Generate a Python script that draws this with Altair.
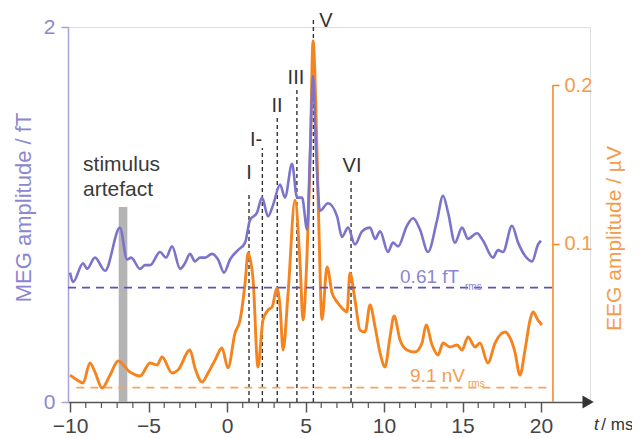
import altair as alt
import pandas as pd

# ---------------- data ----------------
meg_t = [-10.0, -9.81, -9.17, -8.92, -8.41, -7.77, -6.82, -6.37, -6.11, -5.54, -5.22, -4.90,
         -4.27, -3.89, -3.50, -2.99, -2.68, -2.36, -2.04, -1.72, -1.40, -0.96, -0.57, -0.19,
         0.19, 0.70, 1.15, 1.46, 1.91, 2.23, 2.61, 2.93, 3.38, 3.69, 4.14, 4.46, 4.78, 5.10,
         5.29, 5.48, 5.67, 5.92, 6.43, 7.01, 7.32, 7.71, 8.15, 8.60, 9.11, 9.43, 9.75, 10.25,
         10.57, 10.89, 11.46, 11.85, 12.29, 12.80, 13.38, 13.76, 14.08, 14.52, 14.97, 15.35,
         15.92, 16.31, 16.94, 17.26, 17.58, 18.15, 18.54, 18.98, 19.43, 19.81, 20.0]
meg_v = [0.69, 0.64, 0.74, 0.71, 0.77, 0.70, 0.93, 0.76, 0.77, 0.71, 0.73, 0.73, 0.80, 0.77,
         0.83, 0.71, 0.74, 0.79, 0.75, 0.77, 0.77, 0.79, 0.76, 0.69, 0.76, 0.81, 0.85, 0.97,
         1.01, 1.09, 0.99, 1.05, 1.16, 1.09, 1.27, 1.09, 1.09, 0.92, 1.34, 1.74, 1.34, 1.02,
         1.06, 0.99, 0.88, 0.93, 0.84, 0.91, 0.93, 0.87, 0.91, 0.80, 0.85, 0.83, 0.94, 0.98,
         0.92, 0.80, 0.97, 1.10, 1.01, 0.85, 0.93, 0.87, 0.90, 0.86, 0.77, 0.81, 0.80, 0.94,
         0.85, 0.78, 0.75, 0.84, 0.86]

eeg_t = [-10.0, -9.55, -9.17, -8.73, -8.41, -7.96, -7.45, -6.94, -6.18, -5.54, -4.90, -4.46,
         -4.14, -3.50, -3.12, -2.36, -2.04, -1.59, -1.21, -0.76, -0.32, 0.06, 0.51, 0.83,
         1.15, 1.34, 1.66, 1.97, 2.29, 2.61, 2.87, 3.18, 3.38, 3.57, 3.89, 4.33, 4.65, 4.84,
         5.10, 5.29, 5.48, 5.70, 5.85, 6.05, 6.37, 6.69, 7.01, 7.32, 7.64, 7.83, 8.15, 8.47,
         8.79, 9.11, 9.43, 9.75, 10.06, 10.38, 10.64, 11.02, 11.46, 11.97, 12.42, 12.68,
         13.06, 13.44, 13.76, 14.20, 14.65, 14.97, 15.35, 15.80, 16.11, 16.62, 17.07, 17.71,
         18.03, 18.34, 18.66, 18.98, 19.30, 19.49, 19.81, 20.06]
eeg_v = [0.0170, 0.0139, 0.0120, 0.0246, 0.0189, 0.0088, 0.0170, 0.0259, 0.0189, 0.0164,
         0.0246, 0.0233, 0.0284, 0.0183, 0.0202, 0.0328, 0.0215, 0.0126, 0.0183, 0.0265,
         0.0341, 0.0215, 0.0435, 0.0517, 0.0751, 0.0940, 0.0770, 0.0221, 0.0517, 0.0580,
         0.0599, 0.0719, 0.0599, 0.0328, 0.0688, 0.1274, 0.0877, 0.0517, 0.0940, 0.150,
         0.228, 0.170, 0.110, 0.052, 0.0852, 0.0688, 0.0631, 0.0593, 0.0568, 0.0814, 0.0644,
         0.0454, 0.0442, 0.0612, 0.0473, 0.0309, 0.0221, 0.0410, 0.0543, 0.0391, 0.0328,
         0.0315, 0.0372, 0.0486, 0.0360, 0.0297, 0.0372, 0.0347, 0.0360, 0.0328, 0.0410,
         0.0347, 0.0372, 0.0246, 0.0372, 0.0442, 0.0404, 0.0315, 0.0170, 0.0328, 0.0517,
         0.0568, 0.0517, 0.0486]

wave_labels = ["I", "I-", "II", "III", "V", "VI"]
wave_t = [1.4, 2.25, 3.2, 4.45, 5.5, 7.9]
wave_top = [1.12, 1.355, 1.52, 1.664, 2.04, 1.195]
label_t = [1.4, 1.85, 3.18, 4.39, 6.3, 7.96]
label_y = [1.22, 1.40, 1.58, 1.73, 2.03, 1.26]

x_ticks = [-10, -5, 0, 5, 10, 15, 20]
x_minor = [-9, -8, -7, -6, -4, -3, -2, -1, 1, 2, 3, 4, 6, 7, 8, 9, 11, 12, 13, 14,
           16, 17, 18, 19]
meg_ticks = [0, 1, 2]
eeg_ticks = [0.1, 0.2]

meg_rms = 0.61      # fT
eeg_rms = 0.0091    # µV (9.1 nV)
artefact_t = [-6.9, -6.35]
artefact_h = 1.04
artefact_text = ["stimulus", "artefact"]
artefact_text_y = [1.264, 1.13]

# ---------------- styling ----------------
FONT = "Liberation Sans"
PURPLE_LINE = "#7b74c9"
PURPLE_DASH = "#5a51c2"
PURPLE_TXT = "#8c87d0"
PURPLE_AX = "#a6a2dc"
ORANGE_LINE = "#f5841f"
ORANGE_DASH = "#f7a55d"
ORANGE_TXT = "#f59c4c"
GRAY = "#333333"

XDOM = [-10.13, 23.12]
MEG_DOM = [0, 2]
EEG_DOM = [0, 0.2366]
AX_RIGHT = 20.76

xscale = alt.Scale(domain=XDOM, nice=False, zero=False)
xaxis = alt.Axis(values=x_ticks, title=None, grid=False, format="d",
                 domainColor="#555555", domainWidth=1.5, tickColor="#555555",
                 tickWidth=1.5, tickSize=10, labelColor="#444444", labelFontSize=21,
                 labelFont=FONT, labelPadding=3)


def X(f):
    return alt.X(f, type="quantitative", scale=xscale, axis=xaxis)


megscale = alt.Scale(domain=MEG_DOM, nice=False, zero=False)
megaxis = alt.Axis(orient="left", values=meg_ticks, grid=False, format="d",
                   title="MEG amplitude / fT", titleColor=PURPLE_TXT, titleFontSize=22,
                   titleFontWeight="normal", titleFont=FONT, titleAngle=270,
                   titleX=-38, titleY=180, titleAlign="center", titleBaseline="alphabetic",
                   labelColor=PURPLE_TXT, labelFontSize=21, labelFont=FONT, labelPadding=6,
                   domainColor=PURPLE_AX, domainWidth=1.5, tickColor=PURPLE_AX,
                   tickWidth=1.5, tickSize=7)

eegscale = alt.Scale(domain=EEG_DOM, nice=False, zero=False)
eegaxis = alt.Axis(orient="right", values=eeg_ticks, grid=False, format=".1f",
                   offset=-37, domain=False,
                   title="EEG amplitude / µV", titleColor=ORANGE_TXT, titleFontSize=21,
                   titleFontWeight="normal", titleFont=FONT, titleAngle=270,
                   titleX=67, titleY=211, titleAlign="center", titleBaseline="alphabetic",
                   labelColor=ORANGE_TXT, labelFontSize=20, labelFont=FONT, labelPadding=5,
                   tickColor=ORANGE_LINE, tickWidth=1.5, tickSize=6)


def YM(f):
    return alt.Y(f, type="quantitative", scale=megscale, axis=megaxis)


def YE(f):
    return alt.Y(f, type="quantitative", scale=eegscale, axis=eegaxis)


def YB(f):
    return alt.Y(f, type="quantitative", scale=megscale, axis=None)


# ---------------- tables ----------------
meg_df = pd.DataFrame({"t": meg_t, "v": meg_v})
eeg_df = pd.DataFrame({"t": eeg_t, "v": eeg_v})
waves_df = pd.DataFrame({"lab": wave_labels, "t": wave_t, "top": wave_top,
                         "lt": label_t, "ly": label_y, "zero": [0.0] * len(wave_t)})
minor_df = pd.DataFrame({"t": x_minor})
art_df = pd.DataFrame({"t1": [artefact_t[0]], "t2": [artefact_t[1]], "y1": [0.0],
                       "y2": [artefact_h]})
art_txt_df = pd.DataFrame({"txt": artefact_text, "t": [-9.17, -9.17], "y": artefact_text_y})
tlab_df = pd.DataFrame({"txt": ["t"], "t": [23.38], "y": [-0.149]})
mslab_df = pd.DataFrame({"txt": ["/ ms"], "t": [23.84], "y": [-0.149]})
meg_rms_df = pd.DataFrame({"t1": [XDOM[0]], "t2": [AX_RIGHT], "y": [meg_rms]})
eeg_rms_df = pd.DataFrame({"t1": [-9.6], "t2": [AX_RIGHT], "y": [eeg_rms]})
meg_txt_df = pd.DataFrame({"txt": ["0.61 fT"], "t": [11.02], "y": [0.635]})
meg_sub_df = pd.DataFrame({"txt": ["rms"], "t": [15.16], "y": [0.597]})
eeg_txt_df = pd.DataFrame({"txt": ["9.1 nV"], "t": [11.66], "y": [0.0126]})
eeg_sub_df = pd.DataFrame({"txt": ["rms"], "t": [15.35], "y": [0.0092]})
eeg_axis_df = pd.DataFrame({"t": [AX_RIGHT], "y1": [0.0], "y2": [0.2]})
arrow_df = pd.DataFrame({"t": [23.0], "y": [0.0]})

# ---------------- back group (MEG units, no axis) ----------------
bar = alt.Chart(art_df).mark_rect(color="#b4b4b4").encode(
    x=X("t1"), x2="t2", y=YB("y1"), y2="y2")
vlines = alt.Chart(waves_df).mark_rule(color=GRAY, strokeDash=[4, 3], strokeWidth=1.4).encode(
    x=X("t"), y=YB("zero"), y2="top")
wave_txt = alt.Chart(waves_df).mark_text(font=FONT, fontSize=20, color=GRAY,
                                         baseline="middle", align="center").encode(
    x=X("lt"), y=YB("ly"), text="lab")
art_txt = alt.Chart(art_txt_df).mark_text(font=FONT, fontSize=21, color="#3a3a3a",
                                          baseline="middle", align="left").encode(
    x=X("t"), y=YB("y"), text="txt")
minor = alt.Chart(minor_df).mark_rule(color="#555555", strokeWidth=1.2).encode(
    x=X("t"), y=alt.value(375), y2=alt.value(381))
arrow = alt.Chart(arrow_df).mark_point(shape="triangle-right", filled=True, size=170,
                                       color="#333333", opacity=1).encode(
    x=X("t"), y=YB("y"))
t_txt = alt.Chart(tlab_df).mark_text(font=FONT, fontSize=17, fontStyle="italic",
                                     color="#333333", align="left",
                                     baseline="alphabetic").encode(
    x=X("t"), y=YB("y"), text="txt")
ms_txt = alt.Chart(mslab_df).mark_text(font=FONT, fontSize=17, color="#333333",
                                       align="left", baseline="alphabetic").encode(
    x=X("t"), y=YB("y"), text="txt")
back = alt.layer(bar, vlines, wave_txt, art_txt, minor, arrow, t_txt, ms_txt)

# ---------------- EEG group ----------------
eeg_line = alt.Chart(eeg_df).mark_line(color=ORANGE_LINE, strokeWidth=2.9,
                                       interpolate="monotone").encode(
    x=X("t"), y=YE("v"))
eeg_dash = alt.Chart(eeg_rms_df).mark_rule(color=ORANGE_DASH, strokeDash=[8, 6],
                                           strokeWidth=1.6).encode(
    x=X("t1"), x2="t2", y=YE("y"))
eeg_axline = alt.Chart(eeg_axis_df).mark_rule(color=ORANGE_LINE, strokeWidth=1.5).encode(
    x=X("t"), y=YE("y1"), y2="y2")
eeg_txt = alt.Chart(eeg_txt_df).mark_text(font=FONT, fontSize=19, color=ORANGE_TXT,
                                          align="left", baseline="alphabetic").encode(
    x=X("t"), y=YE("y"), text="txt")
eeg_sub = alt.Chart(eeg_sub_df).mark_text(font=FONT, fontSize=10, color=ORANGE_TXT,
                                          align="left", baseline="alphabetic").encode(
    x=X("t"), y=YE("y"), text="txt")
eeg_group = alt.layer(eeg_dash, eeg_axline, eeg_line, eeg_txt, eeg_sub)

# ---------------- MEG group ----------------
meg_line = alt.Chart(meg_df).mark_line(color=PURPLE_LINE, strokeWidth=2.6,
                                       interpolate="monotone").encode(
    x=X("t"), y=YM("v"))
meg_dash = alt.Chart(meg_rms_df).mark_rule(color=PURPLE_DASH, strokeDash=[8, 6],
                                           strokeWidth=1.6).encode(
    x=X("t1"), x2="t2", y=YM("y"))
meg_txt = alt.Chart(meg_txt_df).mark_text(font=FONT, fontSize=19, color=PURPLE_TXT,
                                          align="left", baseline="alphabetic").encode(
    x=X("t"), y=YM("y"), text="txt")
meg_sub = alt.Chart(meg_sub_df).mark_text(font=FONT, fontSize=10, color=PURPLE_TXT,
                                          align="left", baseline="alphabetic").encode(
    x=X("t"), y=YM("y"), text="txt")
meg_group = alt.layer(meg_dash, meg_line, meg_txt, meg_sub)

chart = alt.layer(back, eeg_group, meg_group).resolve_scale(y="independent").properties(
    width=522, height=375,
    autosize=alt.AutoSizeParams(type="none"),
    padding={"left": 60, "top": 19, "right": 42, "bottom": 34},
).configure_view(stroke=None).configure(background="white")

chart.save("out.html", embed_options={"renderer": "svg", "actions": False})
